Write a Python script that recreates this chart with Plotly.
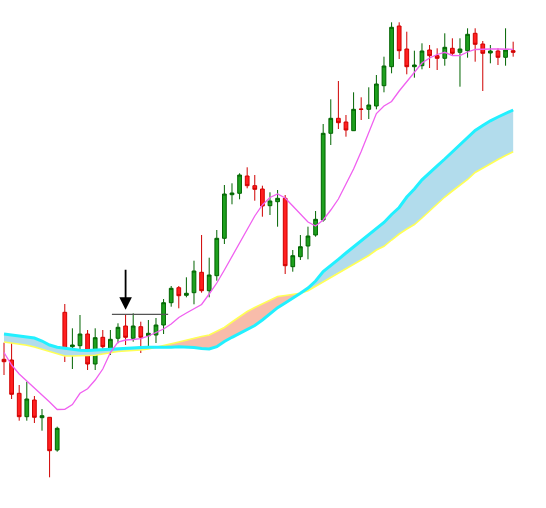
import plotly.graph_objects as go

# ---- candle data (price units) ----
open_ = [148.7,148,114.7,91.3,108,90.3,90.7,58,195.7,161.3,162.3,174,144,170.7,159.7,169.7,182,169.7,181.3,172.3,
         173,183,205.3,220.3,212.7,215.3,235.7,217.3,232.3,269.7,313.3,314.7,332,322.3,319,302.3,306.3,309.7,241.3,251.3,
         262,273,288,374.7,389.7,386,377.3,398.9,398.7,402,422.3,441.3,482,459,441.3,442.3,458,452.3,449.7,459.7,
         455.7,457.3,474.7,464,455,457,450.7,457.3]
high = [165.3,169,123,126.3,112,99,91,81.3,204,179.7,193,178,179.7,178,178,184.7,193.7,194.7,186.3,188,
        190,209,222,222,230.7,247.3,273,250.3,278,323,324.7,334.7,340.7,333,322.3,315.7,318,313,258,273,
        281.3,297,384,408.7,427,393,415.7,410.7,420.7,433,451.3,485.7,485.7,476.3,457.3,464.7,463,459.7,474.7,469.7,
        469.7,479.7,479.7,467,463,459.7,479.7,466.3]
low = [133,109,87.3,87.3,85,77.3,30.7,56.3,146,139,154.7,138,138,156.3,153,164.7,163,166.3,155,160,
       165,174,201.3,199.7,210.7,203.7,215.3,210.7,227.3,264,303.7,308.7,319.7,307.3,291.3,293,281.3,234,236.3,248,
       248.7,271.3,286.3,363,379,371.3,377,388,389,398.7,415.7,434.7,449,433.7,430.3,438.7,440,438,442.3,452,
       421.3,450.3,446.3,417,444.7,443,442.3,451.3]
close = [146.3,113.7,91.3,109,90.7,92.3,57.3,79.7,159,163,174,144,170.3,161.3,168.7,180.7,170.7,182,170.7,174.7,
         183,205.3,219.7,212.3,214.7,237,217.3,233,269.7,314,315,333,322.3,318.7,302,307,309.7,242.3,252.3,261.3,
         272,288.7,374.7,389.7,385.3,378,398.7,398.7,403,424,442,480.7,457.3,441.3,443,457,452.3,449.7,460.7,454.7,
         459,473.7,463.7,454.7,457,450.7,458,455.7]

# ---- indicator lines ----
ma_fast = [155.5,143,134,127,120.5,114,106,98.5,98.7,103.5,114.7,119.3,128,139,155.5,166,168,168.5,169.3,172,
           175.5,179,184,190.5,195,199,203.5,214,225,238,251.5,265.5,278.5,292,303,310.5,314,310,302,294,
           286,282,288,298,309,324,339,356.5,375,394.5,402,406.5,417,426.5,436,445,450,453.5,455.7,452.5,
           452.3,456,458.5,459,459,459,458.8,458.7]
band_cyan = [174,173,172,171.2,170,167,163,160.7,159.6,158.8,157.7,157.5,158,158.5,159,159.7,160,160.3,160.5,160.7,
             160.5,160.3,160.8,161.2,161,160.5,159.5,159,161.3,166.5,170.7,174.5,178.2,182.5,188,194.3,200.3,205,209.7,214.7,
             220,227,236.5,243,248.7,255,261,267,273,279.2,285.5,293.5,300.5,311,319,328.2,335.5,342.2,349,356,
             363,371,377.5,382.5,387.2,391,394.5,398]
band_yellow = [166,165,164,162.8,161,158.7,156.4,154,152,152,152.2,152.5,152.8,154,155.5,156.5,157,157.3,158,159,
               160.5,162.3,164.2,166,168,170,171.5,173,176.5,180.5,186,191.5,196.5,200.5,204.3,208,211.5,212.5,213.5,214.7,
               217.3,221.7,226.5,231,235.5,239.5,243.5,248,252.5,258,261.7,268,274,279,283.5,290,297,304.5,311,317,
               323,328.5,335.5,340,344.5,348.5,352.5,356.3]

# ---- annotation references ----
arrow_bar = 16          # candle the arrow points at
level_from, level_to = 14.2, 21.6

x = list(range(len(close)))

fig = go.Figure()

# cloud fill split by which line is on top
def fill_polys(xs, up, lo):
    polys = []
    cur_x, cur_u, cur_l = [xs[0]], [up[0]], [lo[0]]
    sign = 1 if up[0] - lo[0] >= 0 else -1
    for i in range(1, len(xs)):
        d0 = up[i-1] - lo[i-1]
        d1 = up[i] - lo[i]
        s1 = 1 if d1 > 0 else (-1 if d1 < 0 else sign)
        if s1 != sign and d0 != d1:
            t = d0 / (d0 - d1)
            xi = xs[i-1] + t * (xs[i] - xs[i-1])
            yi = up[i-1] + t * (up[i] - up[i-1])
            cur_x.append(xi); cur_u.append(yi); cur_l.append(yi)
            polys.append((sign, cur_x, cur_u, cur_l))
            cur_x, cur_u, cur_l = [xi], [yi], [yi]
            sign = s1
        cur_x.append(xs[i]); cur_u.append(up[i]); cur_l.append(lo[i])
    polys.append((sign, cur_x, cur_u, cur_l))
    return polys

for sgn, px, pu, pl in fill_polys(x, band_cyan, band_yellow):
    fig.add_trace(go.Scatter(
        x=px + px[::-1], y=pu + pl[::-1], fill="toself", mode="none",
        fillcolor="#b2dcec" if sgn > 0 else "#f8bcaa",
        hoverinfo="skip", showlegend=False))

fig.add_trace(go.Scatter(x=x, y=band_yellow, mode="lines",
                         line=dict(color="#ffff55", width=1.6), hoverinfo="skip", showlegend=False))
fig.add_trace(go.Scatter(x=x, y=band_cyan, mode="lines",
                         line=dict(color="#22f0ff", width=3), hoverinfo="skip", showlegend=False))
fig.add_trace(go.Scatter(x=x, y=ma_fast, mode="lines",
                         line=dict(color="#f060f0", width=1.3), hoverinfo="skip", showlegend=False))

fig.add_trace(go.Candlestick(
    x=x, open=open_, high=high, low=low, close=close,
    increasing=dict(fillcolor="#1ea01e", line=dict(color="#006400", width=1)),
    decreasing=dict(fillcolor="#ff2020", line=dict(color="#d00000", width=1)),
    hoverinfo="skip", showlegend=False))

# horizontal reference level at the high of the marked bar
fig.add_shape(type="line", x0=level_from, x1=level_to, y0=high[arrow_bar], y1=high[arrow_bar],
              xref="x", yref="y", line=dict(color="#555555", width=1.2))

fig.add_annotation(x=arrow_bar, y=high[arrow_bar] + 4.5, ax=arrow_bar, ay=high[arrow_bar] + 46,
                   xref="x", yref="y", axref="x", ayref="y", text="", showarrow=True,
                   arrowhead=2, arrowsize=1.4, arrowwidth=1.8, arrowcolor="black", standoff=0)

fig.update_layout(
    width=546, height=508, margin=dict(l=0, r=0, t=0, b=0),
    paper_bgcolor="white", plot_bgcolor="white", showlegend=False,
    xaxis=dict(range=[-0.526, 71.32], visible=False, rangeslider=dict(visible=False), fixedrange=True),
    yaxis=dict(range=[0, 508], visible=False, fixedrange=True),
)

fig.write_html("out.html", config={"displayModeBar": False},
               post_script="document.body.style.margin='0';document.body.style.overflow='hidden';")
